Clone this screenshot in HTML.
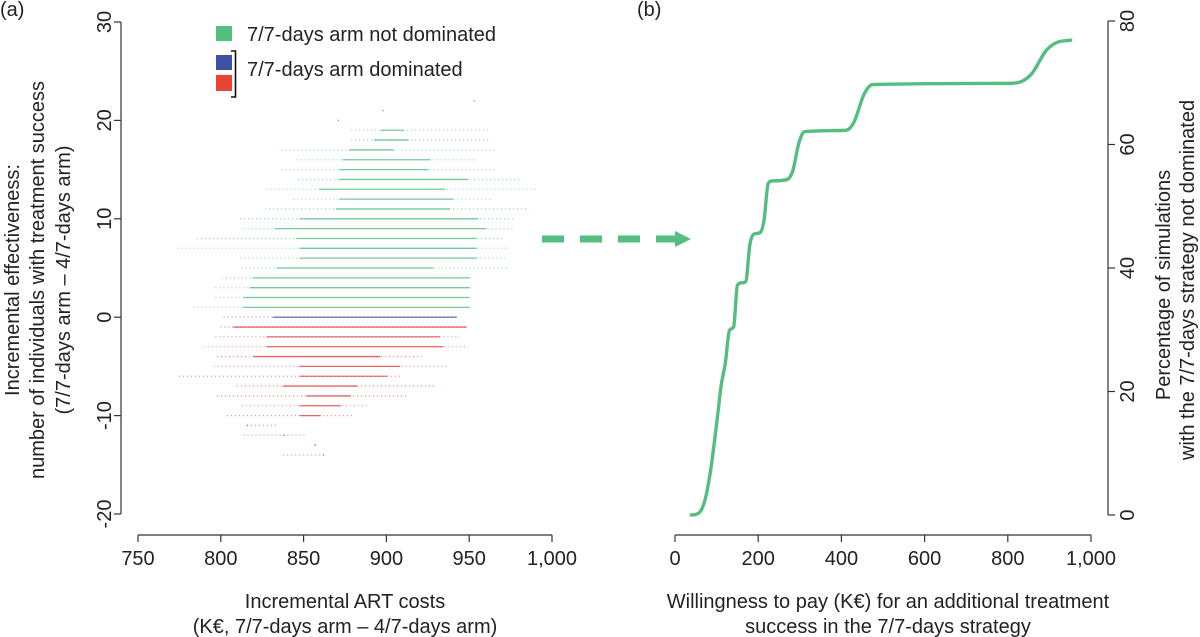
<!DOCTYPE html>
<html><head><meta charset="utf-8"><style>
body{margin:0;background:#fff}
svg{display:block;font-family:"Liberation Sans",sans-serif;fill:#222}
</style></head><body>
<svg id="chart" width="1200" height="637" viewBox="0 0 1200 637" xmlns="http://www.w3.org/2000/svg">
<text x="0" y="16" font-size="20">(a)</text>
<text x="637" y="16" font-size="20">(b)</text>
<g id="scatter"></g>
<g id="axesA" stroke="#333" stroke-width="1.2" fill="none"></g>
<g id="labelsA" font-size="20"></g>
<g>
 <rect x="216" y="26" width="16" height="15" fill="#55bd80"/>
 <text x="247" y="41" font-size="20">7/7-days arm not dominated</text>
 <rect x="216" y="55" width="16" height="15" fill="#3f51a5"/>
 <rect x="216" y="75" width="16" height="16" fill="#ea4335"/>
 <path d="M231 51 H235.5 V97 H231" stroke="#111" stroke-width="1.6" fill="none"/>
 <text x="247" y="76" font-size="20">7/7-days arm dominated</text>
</g>
<g font-size="20" text-anchor="middle">
 <text transform="translate(19,280) rotate(-90)">Incremental effectiveness:</text>
 <text transform="translate(44,280) rotate(-90)">number of individuals with treatment success</text>
 <text transform="translate(70,280) rotate(-90)">(7/7-days arm – 4/7-days arm)</text>
</g>
<g font-size="20" text-anchor="middle">
 <text x="345" y="608">Incremental ART costs</text>
 <text x="345" y="633">(K€, 7/7-days arm – 4/7-days arm)</text>
</g>
<g>
 <line x1="542" y1="239" x2="675" y2="239" stroke="#55bd80" stroke-width="7" stroke-dasharray="22,16" />
 <polygon points="675,231 691,239 675,247" fill="#55bd80"/>
</g>
<g id="axesB" stroke="#333" stroke-width="1.2" fill="none"></g>
<g id="labelsB" font-size="20"></g>
<path id="curve" fill="none" stroke="#55bd80" stroke-width="3.4" stroke-linejoin="round" stroke-linecap="round"/>
<g font-size="20" text-anchor="middle">
 <text transform="translate(1170,285) rotate(-90)">Percentage of simulations</text>
 <text transform="translate(1194,280) rotate(-90)">with the 7/7-days strategy not dominated</text>
</g>
<g font-size="20" text-anchor="middle">
 <text x="888" y="608">Willingness to pay (K€) for an additional treatment</text>
 <text x="888" y="633">success in the 7/7-days strategy</text>
</g>
</svg>
<script>
// Panel A scatter rows: effectiveness value, min cost, max cost, dense core start, dense core end
const rowY     = [22,21,20,19,18,17,16,15,14,13,12,11,10,9,8,7,6,5,4,3,2,1,0,-1,-2,-3,-4,-5,-6,-7,-8,-9,-10,-11,-12,-13,-14];
const rowMin   = [953,898,871,879,879,837,846,837,847,828,844,827,812,814,786,774,812,813,801,797,797,784,802,800,797,790,798,796,775,810,798,813,804,816,814,857,838];
const rowMax   = [953,898,871,963,962,967,953,965,981,990,963,986,978,977,970,973,973,973,951,949,947,946,943,949,944,949,921,936,908,929,912,889,879,834,852,857,862];
const coreLo   = [953,898,871,897,893,878,874,872,872,860,872,870,848,833,846,848,848,834,820,818,814,814,832,808,828,828,820,848,848,838,852,848,848,816,838,857,862];
const coreHi   = [953,898,871,910,913,904,926,925,949,935,940,938,955,960,954,954,954,928,950,950,950,950,942,948,932,934,896,908,900,882,878,872,860,816,838,857,862];
const xTicksA = [750,800,850,900,950,1000];
const xTickLabelsA = ["750","800","850","900","950","1,000"];
const yTicksA = [-20,-10,0,10,20,30];
// Panel B curve
const wtp = [39,57,72,86,101,111,121,131,141,150,160,170,180,190,204,214,224,234,268,283,298,312,411,430,455,475,804,833,858,892,917,951];
const pct = [0,0.3,2.4,7.4,15.3,21,24.6,29.9,30.5,37.2,37.6,37.8,43.8,45.5,45.7,47.7,53.7,54.1,54.3,55.7,60.3,62.1,62.3,63.6,68.2,69.7,69.9,70.2,71.5,75.2,76.5,76.9];
const xTicksB = [0,200,400,600,800,1000];
const xTickLabelsB = ["0","200","400","600","800","1,000"];
const yTicksB = [0,20,40,60,80];

const NS="http://www.w3.org/2000/svg";
const xA=v=>138+(v-750)*(552-138)/250;
const yA=v=>317.2-v*9.84;
const xB=v=>675+v*(1091-675)/1000;
const yB=v=>515-v*(515-21)/80;
function mk(tag,parent,attrs){const e=document.createElementNS(NS,tag);for(const k in attrs)e.setAttribute(k,attrs[k]);parent.appendChild(e);return e;}

const sc=document.getElementById('scatter');
rowY.forEach((y,i)=>{
  const col = y>0?'#4fbb7c':(y===0?'#3f51a5':'#e03a3c');
  const py=yA(y);
  const a=mk('line',sc,{x1:xA(rowMin[i])-0.5,x2:xA(rowMax[i])+0.5,y1:py,y2:py,stroke:col,'stroke-width':1.3,'stroke-dasharray':'1,3','stroke-opacity':0.55});
  
  
  const b=mk('line',sc,{x1:xA(coreLo[i])-0.7,x2:xA(coreHi[i])+0.7,y1:py,y2:py,stroke:col,'stroke-width':1.3,'stroke-opacity':0.75});
  
  
});

const axA=document.getElementById('axesA'), lbA=document.getElementById('labelsA');
let l=mk('line',axA,{x1:121,x2:121,y1:yA(30),y2:yA(-20)});


yTicksA.forEach(v=>{mk('line',axA,{x1:114,x2:121,y1:yA(v),y2:yA(v)});
  const t=mk('text',lbA,{transform:`translate(111,${yA(v)}) rotate(-90)`,'text-anchor':'middle'});t.textContent=v;
  
  });
l=mk('line',axA,{x1:xA(750),x2:xA(1000),y1:535,y2:535});


xTicksA.forEach((v,i)=>{mk('line',axA,{x1:xA(v),x2:xA(v),y1:535,y2:542});
  const t=mk('text',lbA,{x:xA(v),y:565,'text-anchor':'middle'});t.textContent=xTickLabelsA[i];
  
  });

const axB=document.getElementById('axesB'), lbB=document.getElementById('labelsB');
l=mk('line',axB,{x1:1108,x2:1108,y1:yB(80),y2:yB(0)});


yTicksB.forEach(v=>{mk('line',axB,{x1:1108,x2:1115,y1:yB(v),y2:yB(v)});
  const t=mk('text',lbB,{transform:`translate(1134,${yB(v)}) rotate(-90)`,'text-anchor':'middle'});t.textContent=v;
  
  });
l=mk('line',axB,{x1:xB(0),x2:xB(1000),y1:535,y2:535});


xTicksB.forEach((v,i)=>{mk('line',axB,{x1:xB(v),x2:xB(v),y1:535,y2:542});
  const t=mk('text',lbB,{x:xB(v),y:565,'text-anchor':'middle'});t.textContent=xTickLabelsB[i];
  
  });

// monotone cubic (Fritsch-Carlson) interpolation — no overshoot
const X=wtp.map(xB), Y=pct.map(yB), n=X.length;
const dx=[],s=[];
for(let i=0;i<n-1;i++){dx.push(X[i+1]-X[i]);s.push((Y[i+1]-Y[i])/dx[i]);}
const m=[s[0]];
for(let i=1;i<n-1;i++){ m.push(s[i-1]*s[i]<=0?0:(s[i-1]+s[i])/2); }
m.push(s[n-2]);
for(let i=0;i<n-1;i++){
  if(s[i]===0){m[i]=0;m[i+1]=0;continue;}
  const a=m[i]/s[i],b=m[i+1]/s[i],h=a*a+b*b;
  if(h>9){const t=3/Math.sqrt(h);m[i]=t*a*s[i];m[i+1]=t*b*s[i];}
}
let d=`M${X[0]},${Y[0]}`;
for(let i=0;i<n-1;i++){
  const h=dx[i]/3;
  d+=` C${X[i]+h},${Y[i]+m[i]*h} ${X[i+1]-h},${Y[i+1]-m[i+1]*h} ${X[i+1]},${Y[i+1]}`;
}
document.getElementById('curve').setAttribute('d',d);
</script>
</body></html>
